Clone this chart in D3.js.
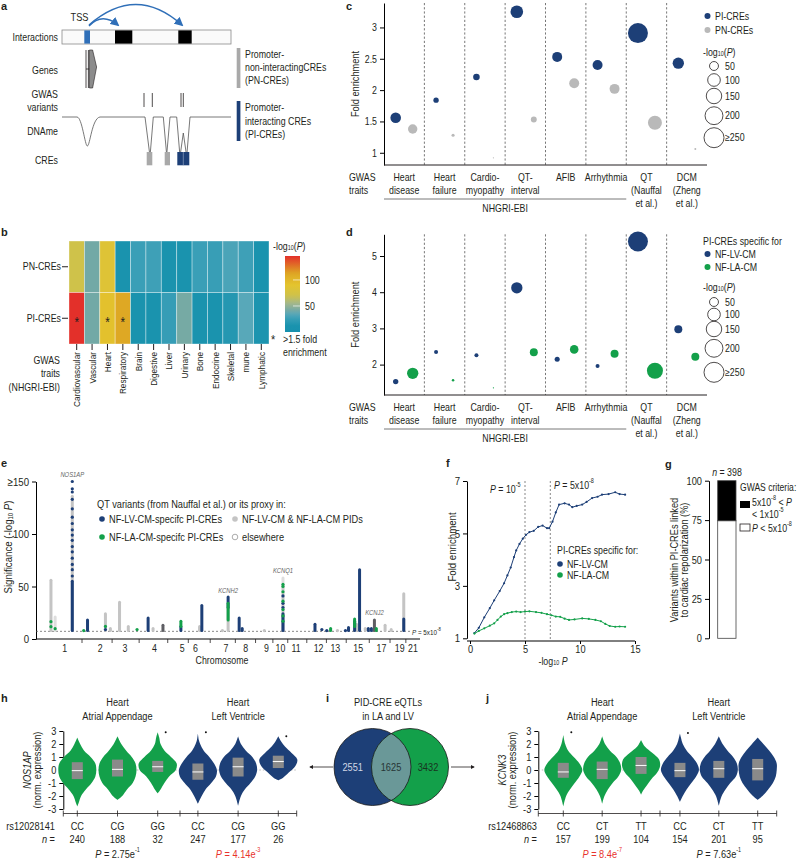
<!DOCTYPE html>
<html>
<head>
<meta charset="utf-8">
<script src="https://cdn.jsdelivr.net/npm/d3@7"></script>
<style>
body { margin: 0; background: #fff; }
svg text { font-family: "Liberation Sans", Arial, sans-serif; font-size: 10.5px; fill: #231f20; }
</style>
</head>
<body>
<div id="fig"></div>
<script>
//  palette
var NAVY = "#1d3f77";
var GREEN = "#13a04a";
var GREY = "#b9b9b9";
var BLUE = "#2f6fb8";
var INK = "#231f20";
var RED = "#e8322b";
var NARROW = 0.84;

//  panel b : -log10(P) per trait
var HEAT_TRAITS = ["Cardiovascular", "Vascular", "Heart", "Respiratory", "Brain", "Digestive", "Liver", "Urinary", "Bone", "Endocrine", "Skeletal", "mune", "Lymphatic"];
var HEAT_ROWS = ["PN-CREs", "PI-CREs"];
var HEAT_PN = [70, 41, 84, 11, 27, 28, 11, 12, 27, 26, 31, 28, 12];
var HEAT_PI = [146, 41, 92, 112, 11, 12, 25, 42, 11, 12, 17, 34, 13];
var HEAT_STAR = ["Cardiovascular", "Heart", "Respiratory"];
var HEAT_TICKS = [50, 100];

//  panels c, d : fold enrichment and -log10(P)
var GWAS_TRAITS = ["Heart disease", "Heart failure", "Cardiomyopathy", "QT-interval", "AFIB", "Arrhythmia", "QT (Nauffal et al.)", "DCM (Zheng et al.)"];
var GWAS_LINES = [["Heart", "disease"], ["Heart", "failure"], ["Cardio-", "myopathy"], ["QT-", "interval"], ["AFIB"], ["Arrhythmia"], ["QT", "(Nauffal", "et al.)"], ["DCM", "(Zheng", "et al.)"]];
var NHGRI_COUNT = 6;
var FOLD_PI = [1.56, 1.84, 2.21, 3.25, 2.53, 2.40, 2.91, 2.43];
var FOLD_PN = [1.38, 1.28, 0.92, 1.53, 2.11, 2.02, 1.48, 1.06];
var LOGP_PI = [70, 18, 27, 100, 62, 62, 250, 80];
var LOGP_PN = [55, 6, 1, 22, 62, 62, 122, 2.5];
var FOLD_LV = [1.53, 2.35, 2.26, 4.12, 2.15, 1.96, 5.40, 2.98];
var FOLD_LA = [1.76, 1.57, 1.36, 2.34, 2.42, 2.30, 1.83, 2.22];
var LOGP_LV = [18, 10, 10, 80, 16, 10, 250, 40];
var LOGP_LA = [80, 4, 1, 40, 46, 40, 160, 40];
var SIZE_KEYS = [50, 100, 150, 200, 250];

//  panel e : QT variants, position in % of genome axis
var CHROM_LABELS = ["1", "2", "3", "4", "5", "6", "7", "8", "9", "10", "11", "12", "13", "15", "17", "19", "21"];
var CHROM_POS = [6.9, 16.2, 22.7, 30.4, 37.7, 41.2, 49.2, 54.4, 59.8, 63.5, 67.6, 73.5, 77.9, 83.9, 90.0, 94.8, 98.3];
var QT_SEGMENTS = [
  [3.4, "both", 8, 56], [4.5, "else", 8, 21],
  [9.0, "both", 8, 136], [9.0, "lv", 8, 55],
  [13.0, "lv", 8, 18],
  [17.7, "both", 8, 24], [19.0, "both", 8, 10],
  [21.4, "both", 8, 35], [23.7, "both", 8, 12],
  [28.9, "lv", 8, 20], [30.2, "both", 8, 10],
  [32.8, "dark", 8, 13],
  [37.5, "lv", 8, 12], [37.5, "la", 12, 17],
  [42.4, "both", 8, 12], [43.0, "lv", 8, 32],
  [49.9, "both", 8, 30], [49.9, "lv", 30, 40], [49.9, "la", 18, 34],
  [52.8, "lv", 8, 20], [53.6, "lv", 8, 10],
  [64.3, "both", 8, 52], [64.3, "else", 54, 58], [64.3, "lv", 8, 24],
  [72.7, "lv", 8, 14],
  [76.8, "la", 8, 10],
  [81.5, "lv", 8, 11],
  [83.1, "lv", 8, 17], [83.1, "la", 12, 19], [83.6, "both", 8, 14],
  [84.4, "lv", 8, 66],
  [85.9, "both", 8, 10],
  [86.7, "lv", 8, 10], [87.5, "lv", 8, 10], [88.3, "dark", 8, 18], [88.8, "la", 8, 10],
  [91.1, "both", 8, 13], [92.7, "both", 8, 9],
  [96.0, "both", 8, 43], [96.0, "lv", 8, 19]
];
var QT_POINTS = [
  [3.4, "la", 16.5], [3.4, "la", 11.7], [4.5, "la", 9.8],
  [9.0, "lv", 60], [9.0, "lv", 66], [9.0, "lv", 71], [9.0, "lv", 77], [9.0, "lv", 83], [9.0, "lv", 88],
  [9.0, "lv", 94], [9.0, "lv", 99], [9.0, "lv", 104], [9.0, "lv", 110], [9.0, "lv", 116], [9.0, "lv", 124],
  [9.0, "lv", 133], [9.0, "lv", 140], [9.0, "lv", 143], [9.0, "lv", 150],
  [12.0, "la", 8], [17.7, "la", 12], [17.7, "lv", 9], [26.0, "la", 9],
  [48.4, "both", 8], [59.4, "both", 8], [74.5, "lv", 9], [75.8, "lv", 8], [78.6, "both", 8], [80.7, "lv", 8],
  [64.3, "lv", 30], [64.3, "lv", 34], [64.3, "lv", 41],
  [64.3, "la", 17], [64.3, "la", 22], [64.3, "la", 28], [64.3, "la", 36], [64.3, "la", 45], [64.3, "la", 50], [64.3, "la", 52]
];
var GENE_LABELS = [["NOS1AP", 9.0, 157], ["KCNH2", 49.9, 46], ["KCNQ1", 64.3, 65], ["KCNJ2", 88.3, 25]];
var GWS_LINE = 7.3;

//  panel f : enrichment vs -log10 P threshold
var F_LV = [[0.4, 1.2], [0.8, 1.4], [1.3, 1.8], [1.8, 2.15], [2.2, 2.45], [2.7, 2.8], [3.1, 3.1], [3.4, 3.4], [3.7, 3.7], [4.0, 4.1], [4.2, 4.35], [4.5, 4.6], [4.8, 4.8], [5.1, 4.95], [5.4, 5.05], [5.8, 5.1], [6.2, 5.25], [6.6, 5.3], [7.0, 5.2], [7.2, 5.2], [7.5, 5.45], [7.8, 5.8], [8.1, 6.1], [8.6, 6.15], [9.0, 6.1], [9.3, 6.0], [9.7, 6.05], [10.2, 6.1], [10.6, 6.2], [11.1, 6.35], [11.6, 6.4], [12.0, 6.48], [12.6, 6.5], [13.2, 6.57], [13.6, 6.5], [14.1, 6.48]];
var F_LA = [[0.4, 1.18], [0.8, 1.28], [1.3, 1.38], [1.8, 1.48], [2.2, 1.57], [2.5, 1.7], [2.8, 1.83], [3.1, 1.92], [3.4, 1.96], [3.8, 2.0], [4.2, 2.02], [4.6, 2.0], [5.0, 2.02], [5.4, 2.03], [6.0, 2.0], [6.5, 1.97], [7.0, 1.92], [7.4, 1.88], [7.8, 1.83], [8.2, 1.82], [8.6, 1.75], [9.0, 1.7], [9.5, 1.72], [10.2, 1.76], [10.8, 1.74], [11.4, 1.7], [11.9, 1.65], [12.3, 1.55], [12.7, 1.47], [13.2, 1.44], [13.6, 1.45], [14.1, 1.44]];
var F_THRESH = [5, 7.3];

//  panel g : share of variants (%), n = 398
var G_PCT = [74.6, 25.4];

//  panel i : eQTL counts (LV only, shared, LA only)
var VENN = [2551, 1625, 3432];

//  panels h, j : violins (value, relative width), boxes [q1, median, q3]
var H_GENO = ["CC", "CG", "GG", "CC", "CG", "GG"];
var H_N = [240, 188, 32, 247, 177, 26];
var H_BOX = [[-0.7, -0.05, 0.6], [-0.5, 0.05, 0.8], [-0.15, 0.25, 0.7], [-0.75, -0.15, 0.5], [-0.5, 0.25, 0.95], [0.15, 0.65, 1.1]];
var H_OUT = [null, null, 2.9, 2.9, null, 2.6];
var H_SHAPE = [
  [[2.5, 0], [2, 0.15], [1.5, 0.35], [1, 0.7], [0.5, 0.95], [0, 1], [-0.5, 0.95], [-1, 0.75], [-1.5, 0.45], [-2, 0.2], [-2.5, 0.08], [-2.8, 0]],
  [[2.6, 0], [2, 0.2], [1.5, 0.45], [1, 0.75], [0.5, 0.95], [0, 1], [-0.5, 0.95], [-1, 0.8], [-1.5, 0.5], [-2, 0.25], [-2.3, 0]],
  [[2.9, 0], [2.5, 0.08], [2, 0.15], [1.5, 0.35], [1, 0.7], [0.5, 1], [0, 0.95], [-0.5, 0.6], [-1, 0.35], [-1.5, 0.15], [-1.8, 0]],
  [[2.8, 0], [2.3, 0.05], [2, 0.12], [1.5, 0.3], [1, 0.6], [0.5, 0.85], [0, 1], [-0.5, 0.95], [-1, 0.7], [-1.5, 0.4], [-2, 0.2], [-2.6, 0]],
  [[2.6, 0], [2, 0.15], [1.5, 0.4], [1, 0.75], [0.5, 0.95], [0, 1], [-0.5, 0.9], [-1, 0.65], [-1.5, 0.35], [-2, 0.15], [-2.75, 0]],
  [[2.6, 0], [2.2, 0.15], [1.8, 0.35], [1.3, 0.7], [0.8, 1], [0.3, 0.9], [-0.2, 0.55], [-0.6, 0.25], [-0.8, 0]]
];
var J_GENO = ["CC", "CT", "TT", "CC", "CT", "TT"];
var J_N = [157, 199, 104, 154, 201, 95];
var J_BOX = [[-0.6, -0.15, 0.55], [-0.7, 0.05, 0.65], [-0.3, 0.35, 1.0], [-0.55, -0.05, 0.55], [-0.6, 0.1, 0.7], [-0.8, 0.1, 0.85]];
var J_OUT = [2.9, null, null, 2.85, null, null];
var J_SHAPE = [
  [[2.7, 0], [2, 0.1], [1.5, 0.25], [1, 0.55], [0.5, 0.85], [0, 1], [-0.5, 0.85], [-1, 0.6], [-1.5, 0.35], [-2, 0.15], [-2.8, 0]],
  [[2.6, 0], [2, 0.15], [1.5, 0.4], [1, 0.75], [0.5, 0.95], [0, 1], [-0.5, 0.85], [-1, 0.55], [-1.5, 0.3], [-2, 0.12], [-2.6, 0]],
  [[2.3, 0], [1.8, 0.2], [1.3, 0.6], [0.8, 0.95], [0.3, 1], [-0.2, 0.85], [-0.7, 0.55], [-1.2, 0.3], [-1.6, 0.1], [-1.9, 0]],
  [[2.8, 0], [2.5, 0.05], [2, 0.15], [1.5, 0.35], [1, 0.65], [0.5, 0.9], [0, 1], [-0.5, 0.85], [-1, 0.6], [-1.5, 0.35], [-2, 0.15], [-2.45, 0]],
  [[2.6, 0], [2, 0.2], [1.5, 0.45], [1, 0.75], [0.5, 0.95], [0, 1], [-0.5, 0.9], [-1, 0.6], [-1.5, 0.35], [-2, 0.15], [-2.75, 0]],
  [[2.5, 0], [2, 0.3], [1.5, 0.6], [1, 0.85], [0.5, 1], [0, 1], [-0.5, 0.95], [-1, 0.8], [-1.5, 0.55], [-2, 0.25], [-2.3, 0]]
];

var svg = d3.select("#fig").append("svg").attr("width", 799).attr("height", 861);
var defs = svg.append("defs");
var plain = function (d) { return String(d); };

//  helpers
function txt(g, x, y, s, anchor, size) {
  return g.append("text").attr("x", x).attr("y", y).attr("text-anchor", anchor || "start")
    .attr("dominant-baseline", "central").style("font-size", (size || 10.5) + "px").text(s);
}

function logp_label(g, x, y, size) {
  var t = g.append("text").attr("x", x).attr("y", y).attr("dominant-baseline", "central").style("font-size", (size || 10.5) + "px");
  t.append("tspan").text("-log");
  t.append("tspan").attr("dy", 2).style("font-size", "6.5px").text("10");
  t.append("tspan").attr("dy", -2).text("(");
  t.append("tspan").style("font-style", "italic").text("P");
  t.append("tspan").text(")");
  return t;
}

function panel_letter(x, y, s) {
  svg.append("text").attr("class", "letter").attr("x", x).attr("y", y).attr("dominant-baseline", "central")
    .style("font-weight", "bold").style("font-size", "11px").text(s);
}

//  squeeze all labels to mimic the condensed face of the figure
function narrow_all() {
  svg.selectAll("text").filter(function () { return !this.classList.contains("letter"); }).each(function () {
    var t = d3.select(this);
    var x = +t.attr("x") || 0, y = +t.attr("y") || 0;
    var tr = t.attr("transform") || "";
    t.attr("transform", tr + " translate(" + x + "," + y + ") scale(" + NARROW + ",1)").attr("x", 0).attr("y", 0);
  });
}

//  panel a : schematic
function draw_a() {
  var g = svg.append("g");
  defs.append("marker").attr("id", "arr").attr("viewBox", "0 0 10 10").attr("refX", 8).attr("refY", 5)
    .attr("markerWidth", 6).attr("markerHeight", 6).attr("orient", "auto")
    .append("path").attr("d", "M0,0 L10,5 L0,10 z").attr("fill", BLUE);
  defs.append("marker").attr("id", "arrk").attr("viewBox", "0 0 10 10").attr("refX", 8).attr("refY", 5)
    .attr("markerWidth", 5).attr("markerHeight", 5).attr("orient", "auto")
    .append("path").attr("d", "M0,0 L10,5 L0,10 z").attr("fill", INK);

  txt(g, 79.5, 17, "TSS", "middle", 11);
  g.append("path").attr("d", "M89,26 Q102,12 118,25").attr("fill", "none").attr("stroke", BLUE).attr("stroke-width", 1.5).attr("marker-end", "url(#arr)");
  g.append("path").attr("d", "M89,25 Q136,-16 182,25").attr("fill", "none").attr("stroke", BLUE).attr("stroke-width", 1.5).attr("marker-end", "url(#arr)");

  g.append("rect").attr("x", 62).attr("y", 30).attr("width", 169).attr("height", 14).attr("fill", "#fafafa").attr("stroke", "#8a8a8a").attr("stroke-width", 0.8);
  g.append("rect").attr("x", 84.3).attr("y", 30.4).attr("width", 5.7).attr("height", 13.2).attr("fill", BLUE);
  g.append("rect").attr("x", 115).attr("y", 30.4).attr("width", 17.3).attr("height", 13.2).attr("fill", "#000");
  g.append("rect").attr("x", 178.3).attr("y", 30.4).attr("width", 13.4).attr("height", 13.2).attr("fill", "#000");

  var rows = [["Interactions", 37], ["Genes", 70], ["GWAS", 94], ["variants", 107], ["DNAme", 131], ["CREs", 160]];
  rows.forEach(function (r) { txt(g, 58, r[1], r[0], "end", 10.5); });

  g.append("line").attr("x1", 86).attr("x2", 86).attr("y1", 50).attr("y2", 88).attr("stroke", INK).attr("stroke-width", 0.8);
  g.append("line").attr("x1", 88.4).attr("x2", 88.4).attr("y1", 50).attr("y2", 88).attr("stroke", INK).attr("stroke-width", 0.8);
  g.append("line").attr("x1", 86).attr("x2", 89.4).attr("y1", 69).attr("y2", 69).attr("stroke", INK).attr("stroke-width", 0.8);
  g.append("path").attr("d", "M89.4,50 L92.6,50 L96.6,67 L92.6,88 L89.4,88 Z").attr("fill", "#8c8c8c").attr("stroke", INK).attr("stroke-width", 0.6);

  [144, 152.3, 181, 183.3].forEach(function (x) {
    g.append("line").attr("x1", x).attr("x2", x).attr("y1", 93).attr("y2", 107).attr("stroke", INK).attr("stroke-width", 0.8);
  });

  var dname = "M62,117 L77,117 C82,117 85,146 87.3,146 C90,146 92,118 100,117 L145,117 L150,156.5 L153.3,117 L163.3,117 L166.7,155 L170,117 L176.7,117 L180,156.5 L183.3,133 L186.7,156.5 L190,117 L231,117";
  g.append("path").attr("d", dname).attr("fill", "none").attr("stroke", "#555").attr("stroke-width", 0.8);

  g.append("rect").attr("x", 146.7).attr("y", 152).attr("width", 5.6).attr("height", 13.3).attr("fill", "#a9a9a9");
  g.append("rect").attr("x", 164.7).attr("y", 152).attr("width", 5.3).attr("height", 13.3).attr("fill", "#a9a9a9");
  g.append("rect").attr("x", 177.3).attr("y", 152).attr("width", 12).attr("height", 13.3).attr("fill", NAVY);
  g.append("line").attr("x1", 183.3).attr("x2", 183.3).attr("y1", 152).attr("y2", 165.3).attr("stroke", "#9fb0cc").attr("stroke-width", 0.6);

  g.append("rect").attr("x", 236.7).attr("y", 48).attr("width", 3.7).attr("height", 40).attr("fill", "#a9a9a9");
  g.append("rect").attr("x", 236.7).attr("y", 101).attr("width", 3.7).attr("height", 40).attr("fill", NAVY);
  [["Promoter-", 54], ["non-interactingCREs", 67], ["(PN-CREs)", 80], ["Promoter-", 107], ["interacting CREs", 121], ["(PI-CREs)", 134]]
    .forEach(function (r) { txt(g, 245, r[1], r[0], "start", 10.5); });
}

//  panel b : heatmap
function draw_b() {
  var g = svg.append("g");
  var x = d3.scaleBand().domain(HEAT_TRAITS).range([69, 269]);
  var y = d3.scaleBand().domain(HEAT_ROWS).range([241, 344]);
  var col = d3.scaleLinear()
    .domain([0, 12, 27, 34, 41, 55, 70, 90, 112, 146])
    .range(["#1790ad", "#1a93ae", "#3a9fb7", "#58a8b9", "#72a9a6", "#a4b78b", "#cfc24a", "#e4c42e", "#dea824", "#e3302a"]);
  var cells = [];
  HEAT_TRAITS.forEach(function (t, i) {
    cells.push({row: "PN-CREs", trait: t, v: HEAT_PN[i]});
    cells.push({row: "PI-CREs", trait: t, v: HEAT_PI[i]});
  });
  g.selectAll("rect.cell").data(cells).enter().append("rect")
    .attr("x", function (d) { return x(d.trait); }).attr("y", function (d) { return y(d.row); })
    .attr("width", x.bandwidth()).attr("height", y.bandwidth())
    .attr("fill", function (d) { return col(d.v); })
    .attr("stroke", "rgba(255,255,255,0.45)").attr("stroke-width", 0.8);
  g.selectAll("text.star").data(HEAT_STAR).enter().append("text")
    .attr("x", function (d) { return x(d) + x.bandwidth() / 2; }).attr("y", y("PI-CREs") + y.bandwidth() / 2 + 4)
    .attr("text-anchor", "middle").attr("dominant-baseline", "central").style("font-size", "14px").text("*");

  var ya = g.append("g").attr("transform", "translate(68,0)").call(d3.axisLeft(y).tickSize(6).tickSizeOuter(0));
  ya.select(".domain").remove();
  ya.selectAll("line").attr("stroke", INK);
  ya.selectAll("text").style("font-size", "10.5px").attr("x", -7);

  var xa = g.append("g").attr("transform", "translate(0,344)").call(d3.axisBottom(x).tickSize(6).tickSizeOuter(0));
  xa.select(".domain").remove();
  xa.selectAll("line").attr("stroke", INK);
  xa.selectAll("text").attr("transform", "rotate(-90)").attr("x", -8).attr("y", 0).attr("dy", "0.35em")
    .attr("text-anchor", "end").style("font-size", "9.8px");

  txt(g, 60, 360, "GWAS", "end", 10.5);
  txt(g, 60, 373, "traits", "end", 10.5);
  txt(g, 60, 387, "(NHGRI-EBI)", "end", 10.5);

  //  colour bar
  var grad = defs.append("linearGradient").attr("id", "heatgrad").attr("x1", 0).attr("y1", 1).attr("x2", 0).attr("y2", 0);
  d3.range(0, 147, 6).concat([146]).forEach(function (v) {
    grad.append("stop").attr("offset", v / 146).attr("stop-color", col(v));
  });
  var cb = d3.scaleLinear().domain([0, 146]).range([332, 256]);
  g.append("rect").attr("x", 285).attr("y", 256).attr("width", 15).attr("height", 76).attr("fill", "url(#heatgrad)");
  HEAT_TICKS.forEach(function (v) {
    g.append("line").attr("x1", 293).attr("x2", 303).attr("y1", cb(v)).attr("y2", cb(v)).attr("stroke", "rgba(255,255,255,0.8)").attr("stroke-width", 0.8);
    txt(g, 305, cb(v), String(v), "start", 10.5);
  });
  logp_label(g, 273, 246);
  txt(g, 271, 340, "*", "start", 13);
  txt(g, 283, 339, ">1.5 fold", "start", 10.5);
  txt(g, 283, 352, "enrichment", "start", 10.5);
}

//  panels c, d : bubble charts
function draw_bubbles(cfg) {
  var g = svg.append("g");
  var x = d3.scaleBand().domain(GWAS_TRAITS).range([384, 707]);
  var y = d3.scaleLinear().domain(cfg.dom).range([cfg.bottom, cfg.top]);
  var r = d3.scaleSqrt().domain([0, 250]).range([0, 10]).clamp(true);

  GWAS_TRAITS.slice(1).forEach(function (t) {
    g.append("line").attr("x1", x(t)).attr("x2", x(t)).attr("y1", cfg.top).attr("y2", cfg.bottom)
      .attr("stroke", "#555").attr("stroke-width", 0.8).attr("stroke-dasharray", "2.2,2");
  });

  var ya = g.append("g").attr("transform", "translate(384,0)").call(d3.axisLeft(y).tickValues(cfg.ticks).tickSize(4).tickSizeOuter(0).tickFormat(plain));
  ya.selectAll("text").style("font-size", "10.5px");
  g.append("line").attr("x1", 384).attr("x2", 707).attr("y1", cfg.bottom).attr("y2", cfg.bottom).attr("stroke", INK);

  var pts = [];
  GWAS_TRAITS.forEach(function (t, i) {
    pts.push({t: t, dx: -8.5, v: cfg.foldA[i], p: cfg.logA[i], c: cfg.colA});
    pts.push({t: t, dx: 8.5, v: cfg.foldB[i], p: cfg.logB[i], c: cfg.colB});
  });
  g.selectAll("circle.pt").data(pts).enter().append("circle")
    .attr("cx", function (d) { return x(d.t) + x.bandwidth() / 2 + d.dx; })
    .attr("cy", function (d) { return y(d.v); })
    .attr("r", function (d) { return Math.max(0.6, r(d.p)); })
    .attr("fill", function (d) { return d.c; });

  g.append("text").attr("transform", "translate(355," + ((cfg.top + cfg.bottom) / 2) + ") rotate(-90)")
    .attr("text-anchor", "middle").attr("dominant-baseline", "central").style("font-size", "11px").text("Fold enrichment");

  var b = cfg.bottom;
  txt(g, 349, b + 12, "GWAS", "start", 10.5);
  txt(g, 349, b + 25, "traits", "start", 10.5);
  GWAS_LINES.forEach(function (lines, i) {
    lines.forEach(function (s, k) {
      txt(g, x(GWAS_TRAITS[i]) + x.bandwidth() / 2, b + 12 + k * 13, s, "middle", 10.5);
    });
  });
  var xe = x(GWAS_TRAITS[NHGRI_COUNT - 1]) + x.bandwidth();
  g.append("line").attr("x1", 384).attr("x2", xe).attr("y1", b + 34).attr("y2", b + 34).attr("stroke", "#555").attr("stroke-width", 0.8);
  txt(g, (384 + xe) / 2, b + 43, "NHGRI-EBI", "middle", 10.5);

  //  legends
  var L = cfg.leg;
  if (L.title) txt(g, L.x - 2, L.title, "PI-CREs specific for", "start", 10.5);
  L.items.forEach(function (it) {
    g.append("circle").attr("cx", L.x + 2.5).attr("cy", it[1]).attr("r", 3).attr("fill", it[2]);
    txt(g, L.x + 10, it[1], it[0], "start", 10.5);
  });
  logp_label(g, L.x - 2, L.logp);
  SIZE_KEYS.forEach(function (v, i) {
    g.append("circle").attr("cx", L.x + 9).attr("cy", L.sizes[i]).attr("r", r(v)).attr("fill", "none").attr("stroke", INK).attr("stroke-width", 0.8);
    txt(g, L.x + 20, L.sizes[i], v === 250 ? "\u2265250" : String(v), "start", 10.5);
  });
}

//  panel e : QT variants
function draw_e() {
  var g = svg.append("g");
  var x = d3.scaleLinear().domain([0, 100]).range([38, 419]);
  var y = d3.scaleLinear().domain([0, 150]).range([639, 481.5]);
  var colours = {lv: NAVY, la: GREEN, both: "#c4c4c4", dark: "#5e5e63", else: "#dedede"};

  var ya = g.append("g").attr("transform", "translate(36,0)")
    .call(d3.axisLeft(y).tickValues([0, 50, 100, 150]).tickSize(4).tickSizeOuter(0)
      .tickFormat(function (d) { return d === 150 ? "\u2265150" : d; }));
  ya.selectAll("text").style("font-size", "11.5px");

  var xa = g.append("g").attr("transform", "translate(0,639)")
    .call(d3.axisBottom(x).tickValues(CHROM_POS).tickSize(0).tickPadding(6).tickFormat(function (d, i) { return CHROM_LABELS[i]; }));
  xa.select(".domain").attr("d", "M36,0H420");
  xa.selectAll("text").style("font-size", "10.5px");
  //  boundary ticks between labelled chromosomes
  var bounds = [];
  for (var i = 0; i < CHROM_POS.length - 1; i++) bounds.push((CHROM_POS[i] + CHROM_POS[i + 1]) / 2);
  g.selectAll("line.bd").data(bounds).enter().append("line")
    .attr("x1", function (d) { return x(d); }).attr("x2", function (d) { return x(d); })
    .attr("y1", 639).attr("y2", 643).attr("stroke", INK).attr("stroke-width", 0.8);
  txt(g, 222, 660, "Chromosome", "middle", 10.5);

  g.append("line").attr("x1", 36).attr("x2", 410).attr("y1", y(GWS_LINE)).attr("y2", y(GWS_LINE))
    .attr("stroke", "#555").attr("stroke-width", 0.7).attr("stroke-dasharray", "2,2");
  var pl = g.append("text").attr("x", 412).attr("y", y(GWS_LINE)).attr("dominant-baseline", "central").style("font-size", "7.5px");
  pl.append("tspan").style("font-style", "italic").text("P");
  pl.append("tspan").text(" = 5x10");
  pl.append("tspan").attr("dy", -3).style("font-size", "5px").text("-8");

  var order = ["else", "both", "dark", "lv", "la"];
  var segs = QT_SEGMENTS.slice().sort(function (a, b) { return order.indexOf(a[1]) - order.indexOf(b[1]); });
  g.selectAll("line.seg").data(segs).enter().append("line")
    .attr("x1", function (d) { return x(d[0]); }).attr("x2", function (d) { return x(d[0]); })
    .attr("y1", function (d) { return y(d[2]); }).attr("y2", function (d) { return y(d[3]); })
    .attr("stroke", function (d) { return colours[d[1]]; }).attr("stroke-width", 3).attr("stroke-linecap", "round");
  g.selectAll("circle.qp").data(QT_POINTS).enter().append("circle")
    .attr("cx", function (d) { return x(d[0]); }).attr("cy", function (d) { return y(d[2]); }).attr("r", 1.6)
    .attr("fill", function (d) { return colours[d[1]]; });

  GENE_LABELS.forEach(function (d) {
    txt(g, x(d[1]), y(d[2]), d[0], "middle", 7).style("font-style", "italic").style("fill", "#666");
  });

  var t = g.append("text").attr("transform", "translate(8,547) rotate(-90)").attr("text-anchor", "middle").attr("dominant-baseline", "central").style("font-size", "11.5px");
  t.append("tspan").text("Significance (-log");
  t.append("tspan").attr("dy", 2).style("font-size", "7px").text("10");
  t.append("tspan").attr("dy", -2).text(" ");
  t.append("tspan").style("font-style", "italic").text("P");
  t.append("tspan").text(")");

  txt(g, 97, 504, "QT variants (from Nauffal et al.) or its proxy in:", "start", 11);
  var leg = [[102, 519, "NF-LV-CM-specifc PI-CREs", "lv"], [235, 519, "NF-LV-CM & NF-LA-CM PIDs", "both"], [102, 537, "NF-LA-CM-specifc PI-CREs", "la"], [235, 537, "elsewhere", "else"]];
  leg.forEach(function (l) {
    var c = g.append("circle").attr("cx", l[0]).attr("cy", l[1]).attr("r", 2.8);
    if (l[3] === "else") c.attr("fill", "none").attr("stroke", "#888").attr("stroke-width", 0.7);
    else c.attr("fill", colours[l[3]]);
    txt(g, l[0] + 7, l[1], l[2], "start", 11);
  });
}

//  panel f : enrichment curves
function draw_f() {
  var g = svg.append("g");
  var x = d3.scaleLinear().domain([0, 15]).range([470, 635]);
  var y = d3.scaleLinear().domain([1, 7]).range([638.3, 481]);
  var ya = g.append("g").attr("transform", "translate(467,0)").call(d3.axisLeft(y).tickValues([1, 3, 5, 7]).tickSize(4).tickSizeOuter(0).tickFormat(plain));
  ya.selectAll("text").style("font-size", "11.5px");
  var xa = g.append("g").attr("transform", "translate(0,641)").call(d3.axisBottom(x).tickValues([0, 5, 10, 15]).tickSize(3).tickPadding(1).tickSizeOuter(0).tickFormat(plain));
  xa.select(".domain").attr("d", "M467,0H635");
  xa.selectAll("text").style("font-size", "11px");
  F_THRESH.forEach(function (v) {
    g.append("line").attr("x1", x(v)).attr("x2", x(v)).attr("y1", 481).attr("y2", 641)
      .attr("stroke", "#555").attr("stroke-width", 0.7).attr("stroke-dasharray", "2,2");
  });
  var line = d3.line().x(function (d) { return x(d[0]); }).y(function (d) { return y(d[1]); });
  [[F_LV, NAVY], [F_LA, GREEN]].forEach(function (s) {
    g.append("path").datum(s[0]).attr("d", line).attr("fill", "none").attr("stroke", s[1]).attr("stroke-width", 1);
    g.selectAll(null).data(s[0]).enter().append("circle").attr("cx", function (d) { return x(d[0]); })
      .attr("cy", function (d) { return y(d[1]); }).attr("r", 1.1).attr("fill", s[1]);
  });
  var p1 = g.append("text").attr("x", 490).attr("y", 489).attr("dominant-baseline", "central").style("font-size", "10.5px");
  p1.append("tspan").style("font-style", "italic").text("P");
  p1.append("tspan").text(" = 10");
  p1.append("tspan").attr("dy", -4).style("font-size", "6.5px").text("-5");
  var p2 = g.append("text").attr("x", 554).attr("y", 485).attr("dominant-baseline", "central").style("font-size", "10.5px");
  p2.append("tspan").style("font-style", "italic").text("P");
  p2.append("tspan").text(" = 5x10");
  p2.append("tspan").attr("dy", -4).style("font-size", "6.5px").text("-8");

  txt(g, 557, 550, "PI-CREs specific for:", "start", 10.5);
  [[564, "NF-LV-CM", NAVY], [575, "NF-LA-CM", GREEN]].forEach(function (l) {
    g.append("circle").attr("cx", 560).attr("cy", l[0]).attr("r", 2.8).attr("fill", l[2]);
    txt(g, 567, l[0], l[1], "start", 10.5);
  });
  g.append("text").attr("transform", "translate(452,547) rotate(-90)").attr("text-anchor", "middle").attr("dominant-baseline", "central").style("font-size", "11.5px").text("Fold enrichment");
  var xt = g.append("text").attr("x", 553).attr("y", 661).attr("text-anchor", "middle").attr("dominant-baseline", "central").style("font-size", "10.5px");
  xt.append("tspan").text("-log");
  xt.append("tspan").attr("dy", 2).style("font-size", "6.5px").text("10");
  xt.append("tspan").attr("dy", -2).text(" ");
  xt.append("tspan").style("font-style", "italic").text("P");
}

//  panel g : stacked bar
function draw_g() {
  var g = svg.append("g");
  var y = d3.scaleLinear().domain([0, 100]).range([638.3, 480.7]);
  var ya = g.append("g").attr("transform", "translate(709,0)").call(d3.axisLeft(y).tickValues([0, 25, 50, 75, 100]).tickSize(4).tickSizeOuter(0).tickFormat(plain));
  ya.selectAll("text").style("font-size", "11px");
  var stack = [[0, G_PCT[0], "#fff"], [G_PCT[0], G_PCT[0] + G_PCT[1], "#000"]];
  stack.forEach(function (s) {
    g.append("rect").attr("x", 717.7).attr("width", 18.3).attr("y", y(s[1])).attr("height", y(s[0]) - y(s[1]))
      .attr("fill", s[2]).attr("stroke", "#444").attr("stroke-width", 0.8);
  });
  var n = g.append("text").attr("x", 727).attr("y", 472).attr("text-anchor", "middle").attr("dominant-baseline", "central").style("font-size", "10.5px");
  n.append("tspan").style("font-style", "italic").text("n");
  n.append("tspan").text(" = 398");
  txt(g, 740, 487, "GWAS criteria:", "start", 10.2);
  g.append("rect").attr("x", 740).attr("y", 501).attr("width", 10).attr("height", 7).attr("fill", "#000");
  var a = g.append("text").attr("x", 752).attr("y", 502).attr("dominant-baseline", "central").style("font-size", "10.5px");
  a.append("tspan").text("5x10");
  a.append("tspan").attr("dy", -4).style("font-size", "6.5px").text("-8");
  a.append("tspan").attr("dy", 4).text(" < ");
  a.append("tspan").style("font-style", "italic").text("P");
  var b = g.append("text").attr("x", 752).attr("y", 514).attr("dominant-baseline", "central").style("font-size", "10.5px");
  b.append("tspan").text("< 1x10");
  b.append("tspan").attr("dy", -4).style("font-size", "6.5px").text("-5");
  g.append("rect").attr("x", 740).attr("y", 524).attr("width", 10).attr("height", 7).attr("fill", "#fff").attr("stroke", INK).attr("stroke-width", 0.8);
  var c = g.append("text").attr("x", 752).attr("y", 528).attr("dominant-baseline", "central").style("font-size", "10.5px");
  c.append("tspan").style("font-style", "italic").text("P");
  c.append("tspan").text(" < 5x10");
  c.append("tspan").attr("dy", -4).style("font-size", "6.5px").text("-8");
  g.append("text").attr("transform", "translate(674.5,560) rotate(-90)").attr("text-anchor", "middle").attr("dominant-baseline", "central").style("font-size", "11px").text("Variants within PI-CREs  linked");
  g.append("text").attr("transform", "translate(684,560) rotate(-90)").attr("text-anchor", "middle").attr("dominant-baseline", "central").style("font-size", "11px").text("to cardiac repolarization (%)");
}

//  panel i : venn
function draw_i() {
  var g = svg.append("g");
  txt(g, 388, 702, "PID-CRE eQTLs", "middle", 11);
  txt(g, 388, 716, "in LA and LV", "middle", 11);
  var cL = [372.5, 767], cR = [410, 767], rr = 38.5;
  g.append("circle").attr("cx", cL[0]).attr("cy", cL[1]).attr("r", rr).attr("fill", NAVY);
  g.append("circle").attr("cx", cR[0]).attr("cy", cR[1]).attr("r", rr).attr("fill", GREEN);
  defs.append("clipPath").attr("id", "lclip").append("circle").attr("cx", cL[0]).attr("cy", cL[1]).attr("r", rr);
  g.append("circle").attr("cx", cR[0]).attr("cy", cR[1]).attr("r", rr).attr("fill", "#6a9898").attr("clip-path", "url(#lclip)");
  g.append("circle").attr("cx", cL[0]).attr("cy", cL[1]).attr("r", rr).attr("fill", "none").attr("stroke", "#1a1a1a").attr("stroke-width", 0.8);
  g.append("circle").attr("cx", cR[0]).attr("cy", cR[1]).attr("r", rr).attr("fill", "none").attr("stroke", "#1a1a1a").attr("stroke-width", 0.8);
  txt(g, 352.7, 767, String(VENN[0]), "middle", 11).style("fill", "#d0d8e6");
  txt(g, 391, 767, String(VENN[1]), "middle", 11).style("fill", "#263535");
  txt(g, 428, 767, String(VENN[2]), "middle", 11).style("fill", "#17351f");
  g.append("line").attr("x1", 333).attr("x2", 310).attr("y1", 767).attr("y2", 767).attr("stroke", INK).attr("stroke-width", 0.8).attr("marker-end", "url(#arrk)");
  g.append("line").attr("x1", 451).attr("x2", 474).attr("y1", 767).attr("y2", 767).attr("stroke", INK).attr("stroke-width", 0.8).attr("marker-end", "url(#arrk)");
}

//  panels h, j : violins
function draw_violins(cfg) {
  var g = svg.append("g");
  var y = d3.scaleLinear().domain([-3, 3]).range([809, 731]);
  var x = d3.scalePoint().domain(d3.range(6)).range(cfg.centers);
  var w = d3.scaleLinear().domain([0, 1]).range([0, 19]);
  var ya = g.append("g").attr("transform", "translate(" + cfg.ax + ",0)").call(d3.axisLeft(y).tickValues([-3, -2, -1, 0, 1, 2, 3]).tickSize(4).tickSizeOuter(0).tickFormat(plain));
  ya.selectAll("text").style("font-size", "11px");
  g.append("line").attr("x1", cfg.ax).attr("x2", cfg.xend).attr("y1", y(0)).attr("y2", y(0))
    .attr("stroke", "#aaa").attr("stroke-width", 0.8).attr("stroke-dasharray", "1.5,2");

  var area = d3.area().y(function (d) { return y(d[0]); }).curve(d3.curveCatmullRom);
  cfg.shape.forEach(function (s, i) {
    var cx = x(i);
    area.x0(function (d) { return cx - w(d[1]); }).x1(function (d) { return cx + w(d[1]); });
    g.append("path").datum(s).attr("d", area).attr("fill", i < 3 ? GREEN : NAVY);
    var b = cfg.box[i];
    g.append("rect").attr("x", cx - 5.5).attr("width", 11).attr("y", y(b[2])).attr("height", y(b[0]) - y(b[2])).attr("fill", "#8a8a8a");
    g.append("line").attr("x1", cx - 5.5).attr("x2", cx + 5.5).attr("y1", y(b[1])).attr("y2", y(b[1])).attr("stroke", "#fff").attr("stroke-width", 1);
    if (cfg.out[i] !== null) g.append("circle").attr("cx", cx + 8).attr("cy", y(cfg.out[i])).attr("r", 1).attr("fill", "#111");
  });

  var by = 813.5;
  g.append("line").attr("x1", cfg.ax).attr("x2", cfg.xend).attr("y1", by).attr("y2", by).attr("stroke", INK).attr("stroke-width", 0.8);
  [cfg.ax, cfg.brk, cfg.xend].concat(d3.range(6).map(x)).forEach(function (v) {
    g.append("line").attr("x1", v).attr("x2", v).attr("y1", by - 3).attr("y2", by + 3).attr("stroke", INK).attr("stroke-width", 0.8);
  });

  var yt = g.append("text").attr("transform", "translate(" + cfg.tx + ",770) rotate(-90)").attr("text-anchor", "middle").attr("dominant-baseline", "central").style("font-size", "11px");
  yt.append("tspan").attr("x", 0).attr("dy", 0).style("font-style", "italic").text(cfg.gene);
  yt.append("tspan").attr("x", 0).attr("dy", 10).text("(norm. expression)");

  var gc1 = (x(0) + x(2)) / 2, gc2 = (x(3) + x(5)) / 2;
  txt(g, gc1, 702, "Heart", "middle", 11);
  txt(g, gc1, 716, "Atrial Appendage", "middle", 11);
  txt(g, gc2, 702, "Heart", "middle", 11);
  txt(g, gc2, 716, "Left Ventricle", "middle", 11);

  txt(g, cfg.lx, 826, cfg.rs, "end", 11);
  var nn = g.append("text").attr("x", cfg.lx).attr("y", 839).attr("text-anchor", "end").attr("dominant-baseline", "central").style("font-size", "11px");
  nn.append("tspan").style("font-style", "italic").text("n");
  nn.append("tspan").text(" =");
  cfg.geno.forEach(function (s, i) {
    txt(g, x(i), 826, s, "middle", 11);
    txt(g, x(i), 839, String(cfg.n[i]), "middle", 11);
  });
  [[gc1, cfg.p[0], cfg.pc[0]], [gc2, cfg.p[1], cfg.pc[1]]].forEach(function (p) {
    var t = g.append("text").attr("x", p[0]).attr("y", 854).attr("text-anchor", "middle").attr("dominant-baseline", "central").style("font-size", "11px");
    t.append("tspan").style("font-style", "italic").style("fill", p[2]).text("P");
    t.append("tspan").style("fill", p[2]).text(" = " + p[1][0] + "e");
    t.append("tspan").attr("dy", -4).style("font-size", "6.5px").style("fill", p[2]).text(p[1][1]);
  });
}

//  main
function main() {
  draw_a();
  draw_b();
  draw_bubbles({top: 3, bottom: 165, dom: [0.805, 3.39], ticks: [1, 1.5, 2, 2.5, 3],
    foldA: FOLD_PI, foldB: FOLD_PN, logA: LOGP_PI, logB: LOGP_PN, colA: NAVY, colB: GREY,
    leg: {x: 705, title: null, items: [["PI-CREs", 16, NAVY], ["PN-CREs", 30, GREY]], logp: 52, sizes: [66, 80, 96, 115.7, 137.7]}});
  draw_bubbles({top: 234.3, bottom: 395, dom: [1.16, 5.6], ticks: [2, 3, 4, 5],
    foldA: FOLD_LV, foldB: FOLD_LA, logA: LOGP_LV, logB: LOGP_LA, colA: NAVY, colB: GREEN,
    leg: {x: 705, title: 241, items: [["NF-LV-CM", 254, NAVY], ["NF-LA-CM", 267, GREEN]], logp: 287, sizes: [302, 314.5, 329, 348.3, 372.3]}});
  draw_e();
  draw_f();
  draw_g();
  draw_i();
  draw_violins({centers: [77.3, 278.3], ax: 63.3, xend: 296.7, brk: 180, tx: 27, gene: "NOS1AP", rs: "rs12028141", lx: 55,
    geno: H_GENO, n: H_N, box: H_BOX, shape: H_SHAPE, out: H_OUT, p: [["2.75", "-1"], ["4.14", "-3"]], pc: [INK, RED]});
  draw_violins({centers: [563.3, 757.7], ax: 538.3, xend: 776.7, brk: 660, tx: 502, gene: "KCNK3", rs: "rs12468863", lx: 537,
    geno: J_GENO, n: J_N, box: J_BOX, shape: J_SHAPE, out: J_OUT, p: [["8.4", "-7"], ["7.63", "-1"]], pc: [RED, INK]});

  narrow_all();

  panel_letter(1, 6, "a");
  panel_letter(1, 232, "b");
  panel_letter(346, 6, "c");
  panel_letter(346, 232, "d");
  panel_letter(1, 463, "e");
  panel_letter(446, 463, "f");
  panel_letter(665, 464, "g");
  panel_letter(1, 698, "h");
  panel_letter(326, 698, "i");
  panel_letter(486, 698, "j");
}

main();
</script>
</body>
</html>
